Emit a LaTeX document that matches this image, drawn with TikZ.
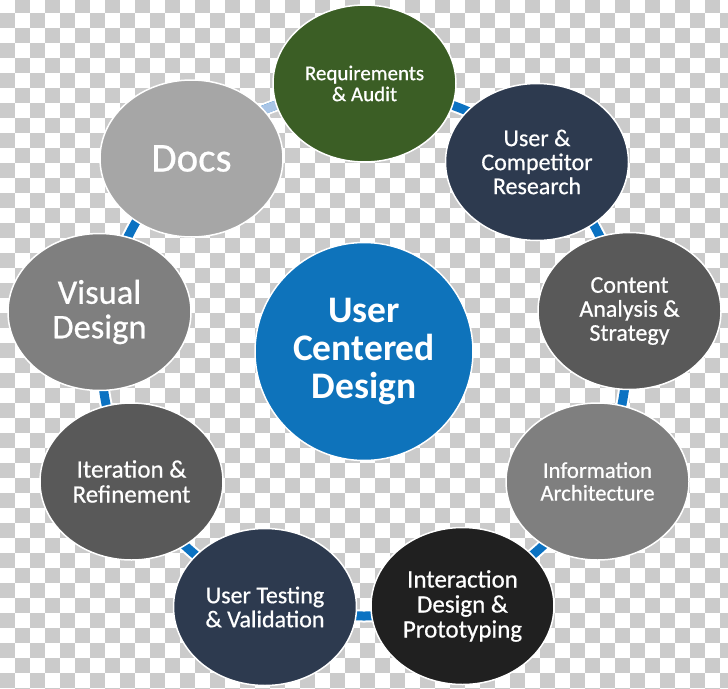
\documentclass[tikz,border=0pt]{standalone}
\usepackage{fontspec}
\setmainfont{Carlito}
\newfontfamily\phasefont[FakeBold=0.6]{Carlito}
\usetikzlibrary{shapes.geometric}

\definecolor{checkgrey}{HTML}{CBCBCB}
\definecolor{ringblue}{HTML}{0B72C2}
\definecolor{paleblue}{HTML}{A9C5E6}
\definecolor{ucdblue}{HTML}{0E73BB}
\definecolor{reqgreen}{HTML}{3B5E25}
\definecolor{navy}{HTML}{2D3A4F}
\definecolor{darkgrey}{HTML}{595959}
\definecolor{midgrey}{HTML}{7F7F7F}
\definecolor{lightgrey}{HTML}{A6A6A6}
\definecolor{nearblack}{HTML}{202020}

\begin{document}
\begin{tikzpicture}[x=1pt, y=-1pt,
    phase/.style={ellipse, draw=white, line width=1.5pt, text=white,
        align=center, inner sep=0pt,
        minimum width=183pt, minimum height=157pt},
    fs/.style={font=\phasefont\fontsize{#1}{#1}\selectfont},
    hub/.style={circle, draw=white, line width=1.5pt, fill=ucdblue,
        text=white, align=center, inner sep=0pt, minimum size=218pt,
        font=\fontsize{37.5}{38}\selectfont\bfseries},
    ]
\useasboundingbox (0,0) rectangle (728,688);

% checkerboard background
\begin{scope}
\clip (0,0) rectangle (728,688);
\foreach \j in {0,...,46} {
    \pgfmathtruncatemacro\s{mod(\j+1,2)}
    \pgfmathtruncatemacro\t{\s+2}
    \foreach \i in {\s,\t,...,48}
        \fill[checkgrey] (15*\i,15*\j-2) rectangle ++(15,15);
}
\end{scope}

% ring behind the phases
\coordinate (ringc) at (364,353);
\draw[white, line width=13pt] (ringc) circle[radius=263];
\draw[ringblue, line width=9pt] (ringc) circle[radius=263];
\draw[paleblue, line width=9pt] ([shift={(-100:263)}]ringc)
    arc[start angle=-100, end angle=-122, radius=263];

% phases
\node[phase, fill=reqgreen, fs=21] (req) at (364.5,83.5) {Requirements\\\& Audit};
\node[phase, fill=navy, fs=24] (ucr) at (537,162) {User \&\\Competitor\\Research};
\node[phase, fill=darkgrey, fs=24] (content) at (629.5,311) {Content\\Analysis \&\\Strategy};
\node[phase, fill=midgrey, fs=22.7] (ia) at (597.5,481.5) {Information\\Architecture};
\node[phase, fill=nearblack, fs=25] (proto) at (462.5,606) {Interaction\\Design \&\\Prototyping};
\node[phase, fill=navy, fs=24] (test) at (265,607) {User Testing\\\& Validation};
\node[phase, fill=darkgrey, fs=25] (iter) at (131.5,481.5) {Iteration \&\\Refinement};
\node[phase, fill=midgrey, fs=34.5] (visual) at (99.5,312) {Visual\\Design};
\node[phase, fill=lightgrey, fs=41] (docs) at (191.5,158.5) {Docs};

% centre
\node[hub] (ucd) at (364,351.5) {User\\Centered\\Design};
\end{tikzpicture}
\end{document}
